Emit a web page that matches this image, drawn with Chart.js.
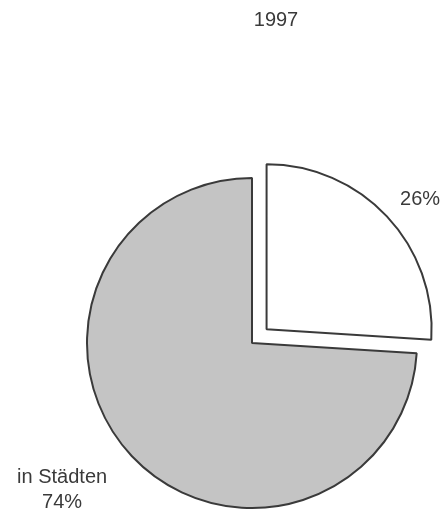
<!DOCTYPE html>
<html>
<head>
<meta charset="utf-8">
<script src="https://cdn.jsdelivr.net/npm/chart.js@4/dist/chart.umd.min.js"></script>
<style>
  body { margin: 0; background: #fff; }
  #wrap { width: 443px; height: 510px; }
</style>
</head>
<body>
<div id="wrap"><canvas id="pieChart" width="443" height="510"></canvas></div>
<script>
var title = "1997";
var categories = ["", "in Städten"];
var values = [26, 74];

var textColor = '#3a3a3a';

// labels next to slices, drawn from the arc geometry
var sliceLabels = {
  id: 'sliceLabels',
  afterDraw: function(chart, args, opts) {
    var ctx = chart.ctx;
    var meta = chart.getDatasetMeta(0);
    ctx.save();
    ctx.fillStyle = textColor;
    ctx.font = '20px "Liberation Sans", Arial, sans-serif';
    ctx.textAlign = 'center';
    ctx.textBaseline = 'middle';
    ctx.fillText(title, opts.titleX, opts.titleY);
    meta.data.forEach(function(arc, i) {
      var p = arc.getProps(['x', 'y', 'startAngle', 'endAngle', 'outerRadius'], true);
      var mid = (p.startAngle + p.endAngle) / 2;
      var shift = opts.offsetPx[i];
      var cx = p.x + Math.cos(mid) * shift;
      var cy = p.y + Math.sin(mid) * shift;
      var a = mid + opts.angleShift[i] * Math.PI / 180;
      var d = p.outerRadius + opts.gap[i];
      var lx = cx + Math.cos(a) * d;
      var ly = cy + Math.sin(a) * d;
      var lines = [];
      if (categories[i]) lines.push(categories[i]);
      lines.push(values[i] + '%');
      var lh = 25;
      lines.forEach(function(t, k) {
        ctx.fillText(t, lx, ly + (k - (lines.length - 1) / 2) * lh);
      });
    });
    ctx.restore();
  }
};

var ctxP = document.getElementById("pieChart").getContext('2d');
var myPieChart = new Chart(ctxP, {
  type: 'pie',
  data: {
    labels: categories,
    datasets: [{
      data: values,
      backgroundColor: ['#ffffff', '#c4c4c4'],
      borderColor: '#3a3a3a',
      borderWidth: 2,
      offset: [80, 0],
      clip: false
    }]
  },
  options: {
    responsive: false,
    animation: false,
    radius: 165,
    layout: { padding: { left: 61, right: 0, top: 176, bottom: 0 } },
    events: [],
    plugins: {
      legend: { display: false },
      tooltip: { enabled: false },
      sliceLabels: {
        titleX: 276, titleY: 20,
        offsetPx: [20, 0],
        angleShift: [3, 5.5],
        gap: [36, 75]
      }
    }
  },
  plugins: [sliceLabels]
});
</script>
</body>
</html>
